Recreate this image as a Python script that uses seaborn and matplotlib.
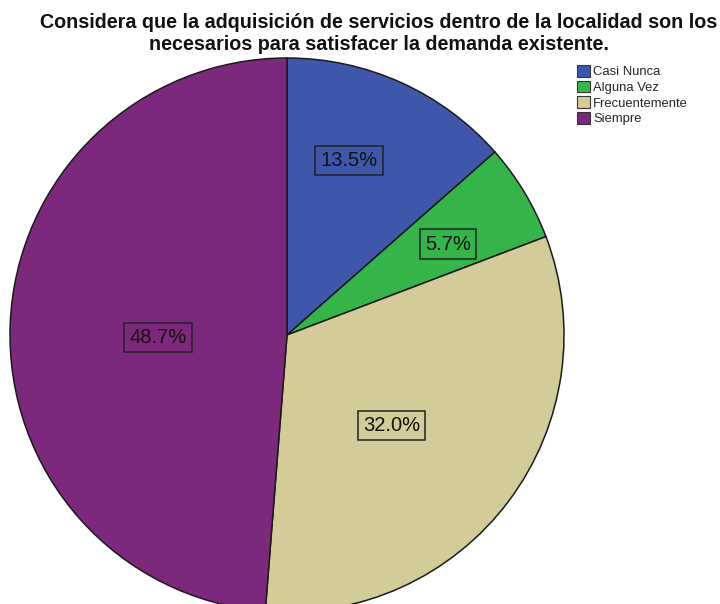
import numpy as np
import matplotlib
matplotlib.use("Agg")
import matplotlib.pyplot as plt
import seaborn as sns

categories = ["Casi Nunca", "Alguna Vez", "Frecuentemente", "Siempre"]
percentages = [13.5, 5.7, 32.0, 48.7]
colors = ["#3F57AA", "#35B449", "#D3CC98", "#7C287D"]

# label placement inside each wedge: (angle in degrees, radius fraction)
label_polar = [(70.5, 0.67), (29.4, 0.669), (-41.0, 0.50), (181.3, 0.466)]

sns.set_theme(style="white")
plt.rcParams["font.family"] = ["Liberation Sans", "DejaVu Sans"]

fig = plt.figure(figsize=(7.2, 6.04), dpi=100)
R_PX = 277
cx, cy = 287, 604 - 335
lim = 1.02
half = R_PX * lim
ax = fig.add_axes([(cx - half) / 720, (cy - half) / 604, 2 * half / 720, 2 * half / 604])

wedges, _ = ax.pie(
    percentages,
    colors=colors,
    startangle=90,
    counterclock=False,
    wedgeprops=dict(edgecolor="#1a1a1a", linewidth=1.1),
)
for w in wedges:
    w.set_clip_on(False)
ax.set_xlim(-lim, lim)
ax.set_ylim(-lim, lim)
ax.set_aspect("equal")
ax.axis("off")

for pct, col, (ang, rad) in zip(percentages, colors, label_polar):
    t = np.deg2rad(ang)
    ax.text(rad * np.cos(t), rad * np.sin(t), f"{pct:.1f}%",
            ha="center", va="center", fontsize=14.5, color="#111111",
            bbox=dict(boxstyle="square,pad=0.25", facecolor=col,
                      edgecolor="#222222", linewidth=1.1))

fig.text(379 / 720, 1 - 34 / 604,
         "Considera que la adquisición de servicios dentro de la localidad son los\n"
         "necesarios para satisfacer la demanda existente.",
         ha="center", va="center", fontsize=14.2, fontweight="bold",
         linespacing=1.2, color="#111111")

handles = [matplotlib.patches.Patch(facecolor=c, edgecolor="#333333", linewidth=0.8)
           for c in colors]
fig.legend(handles, categories, loc="upper left",
           bbox_to_anchor=(568 / 720, 1 - 56 / 604),
           frameon=False, fontsize=9.4, handlelength=1.0, handleheight=1.0,
           handletextpad=0.22, labelspacing=0.18, borderpad=0.2)

fig.savefig("out.png", dpi=100)
